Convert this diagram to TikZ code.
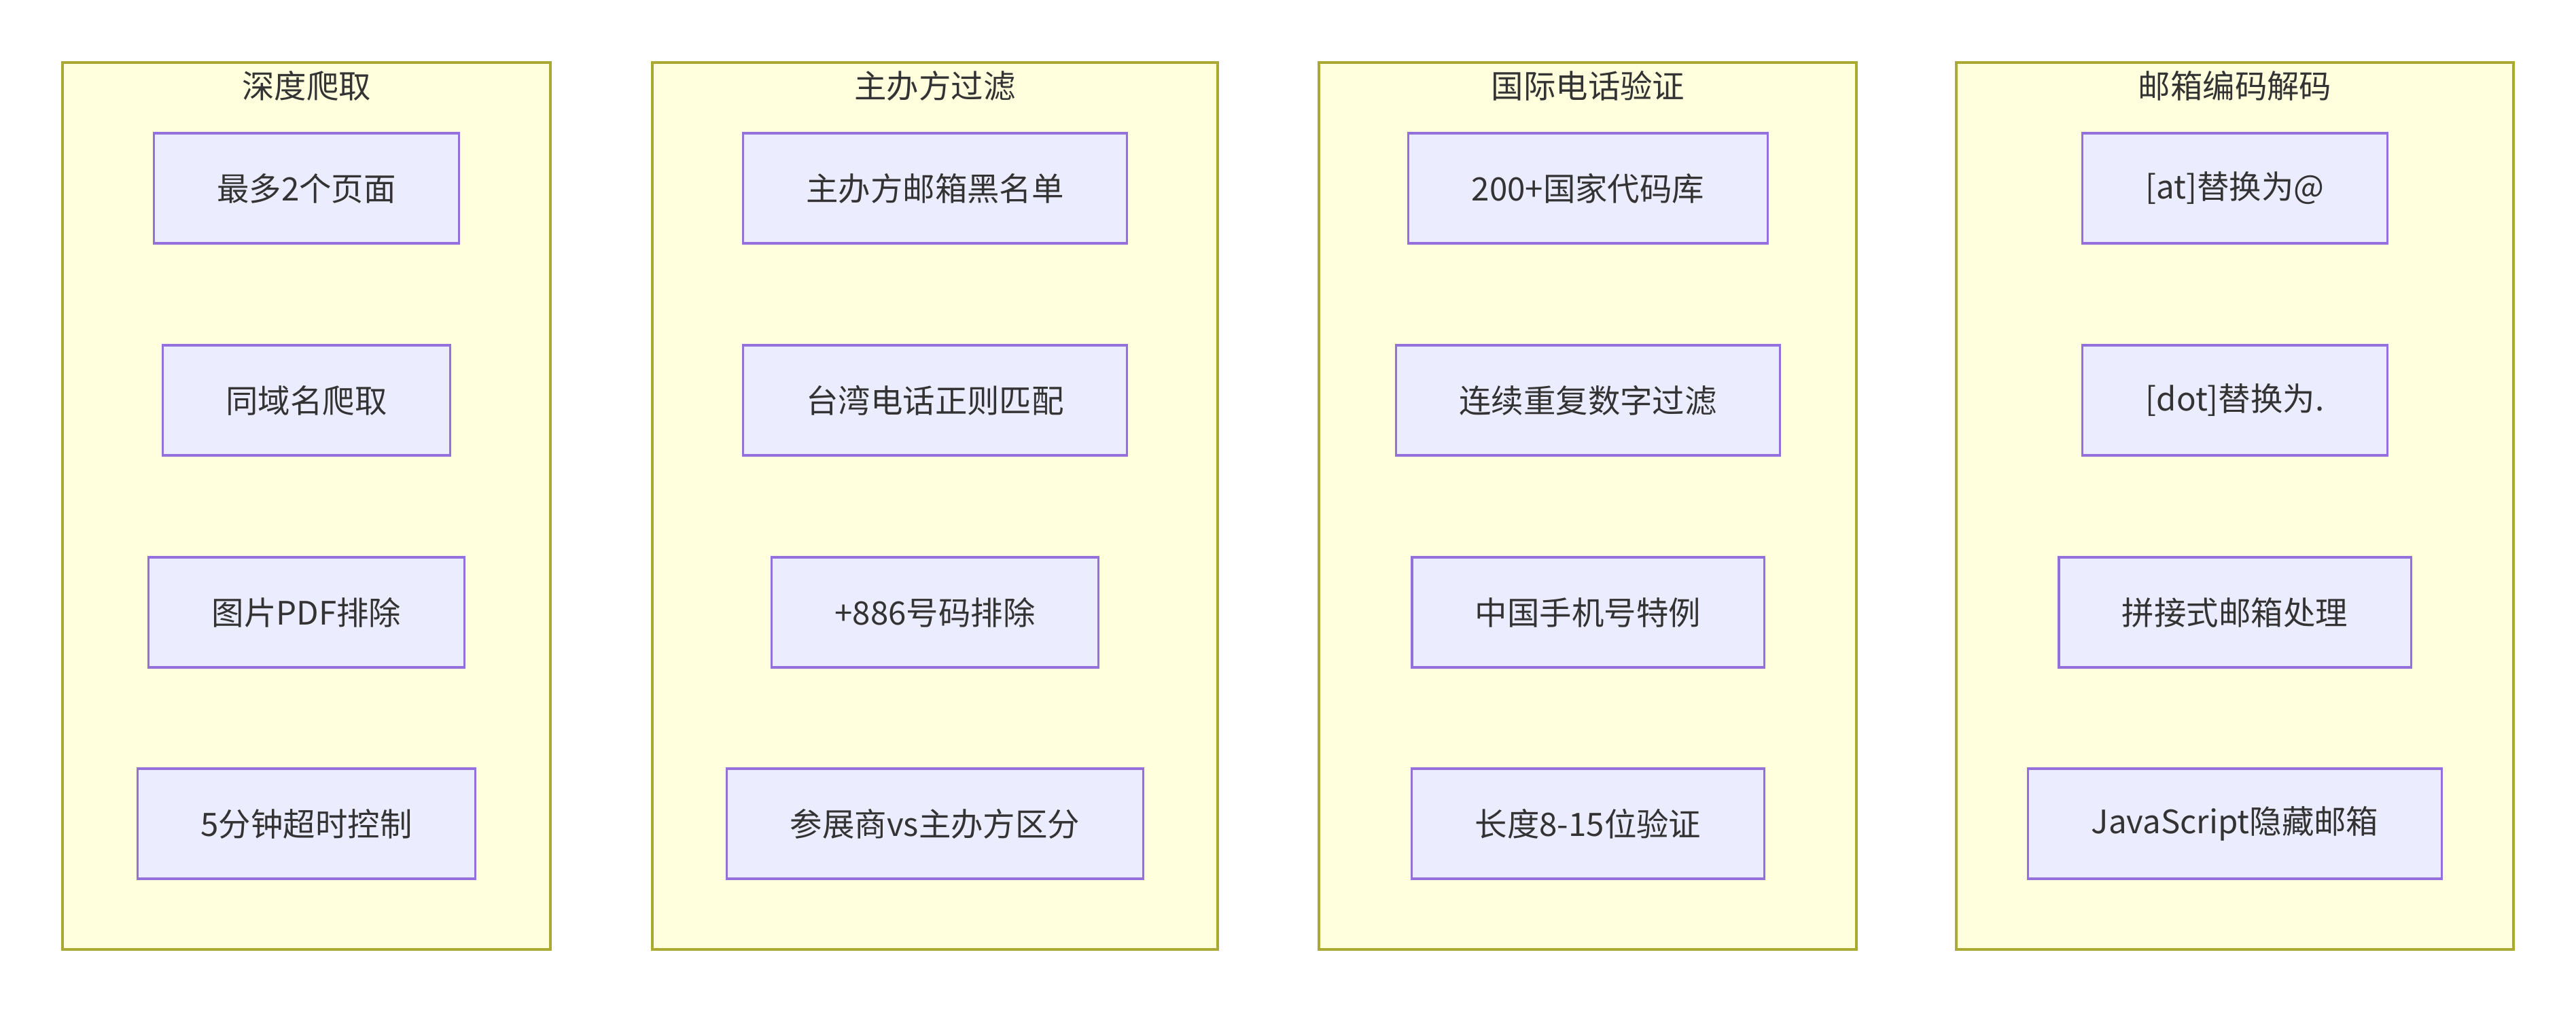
\documentclass[tikz,border=0pt]{standalone}
\usepackage{fontspec}
\setmainfont{Noto Sans CJK SC}
\definecolor{grpfill}{HTML}{FFFFDE}
\definecolor{grpline}{HTML}{AAAA33}
\definecolor{boxfill}{HTML}{ECECFF}
\definecolor{boxline}{HTML}{9370DB}
\definecolor{txt}{HTML}{333333}

\begin{document}
\begin{tikzpicture}[every node/.style={font=\fontsize{13.5}{16}\selectfont, text=txt}, grp/.style={draw=grpline, fill=grpfill, line width=0.9pt}, item/.style={draw=boxline, fill=boxfill, line width=0.9pt, minimum height=1.62cm, inner xsep=0.93cm}]
	\useasboundingbox (0,0) rectangle (37.91,-14.91);
	% four groups
	\draw[grp] (0.92,-0.92) rectangle (8.10,-13.97);
	\draw[grp] (9.60,-0.92) rectangle (17.92,-13.97);
	\draw[grp] (19.41,-0.92) rectangle (27.32,-13.97);
	\draw[grp] (28.79,-0.92) rectangle (36.99,-13.97);
	\node (t1) at (4.51,-1.26) {深度爬取};
	\node (t2) at (13.76,-1.26) {主办方过滤};
	\node (t3) at (23.37,-1.26) {国际电话验证};
	\node (t4) at (32.89,-1.26) {邮箱编码解码};
	% depth
	\node[item] (d1) at (4.51,-2.77) {最多2个页面};
	\node[item] (d2) at (4.51,-5.89) {同域名爬取};
	\node[item] (d3) at (4.51,-9.01) {图片PDF排除};
	\node[item] (d4) at (4.51,-12.12) {5分钟超时控制};
	% organizer
	\node[item] (o1) at (13.76,-2.77) {主办方邮箱黑名单};
	\node[item] (o2) at (13.76,-5.89) {台湾电话正则匹配};
	\node[item] (o3) at (13.76,-9.01) {+886号码排除};
	\node[item] (o4) at (13.76,-12.12) {参展商vs主办方区分};
	% phone
	\node[item] (p1) at (23.37,-2.77) {200+国家代码库};
	\node[item] (p2) at (23.37,-5.89) {连续重复数字过滤};
	\node[item] (p3) at (23.37,-9.01) {中国手机号特例};
	\node[item] (p4) at (23.37,-12.12) {长度8-15位验证};
	% mail
	\node[item] (m1) at (32.89,-2.77) {[at]替换为@};
	\node[item] (m2) at (32.89,-5.89) {[dot]替换为.};
	\node[item] (m3) at (32.89,-9.01) {拼接式邮箱处理};
	\node[item] (m4) at (32.89,-12.12) {JavaScript隐藏邮箱};
\end{tikzpicture}
\end{document}
